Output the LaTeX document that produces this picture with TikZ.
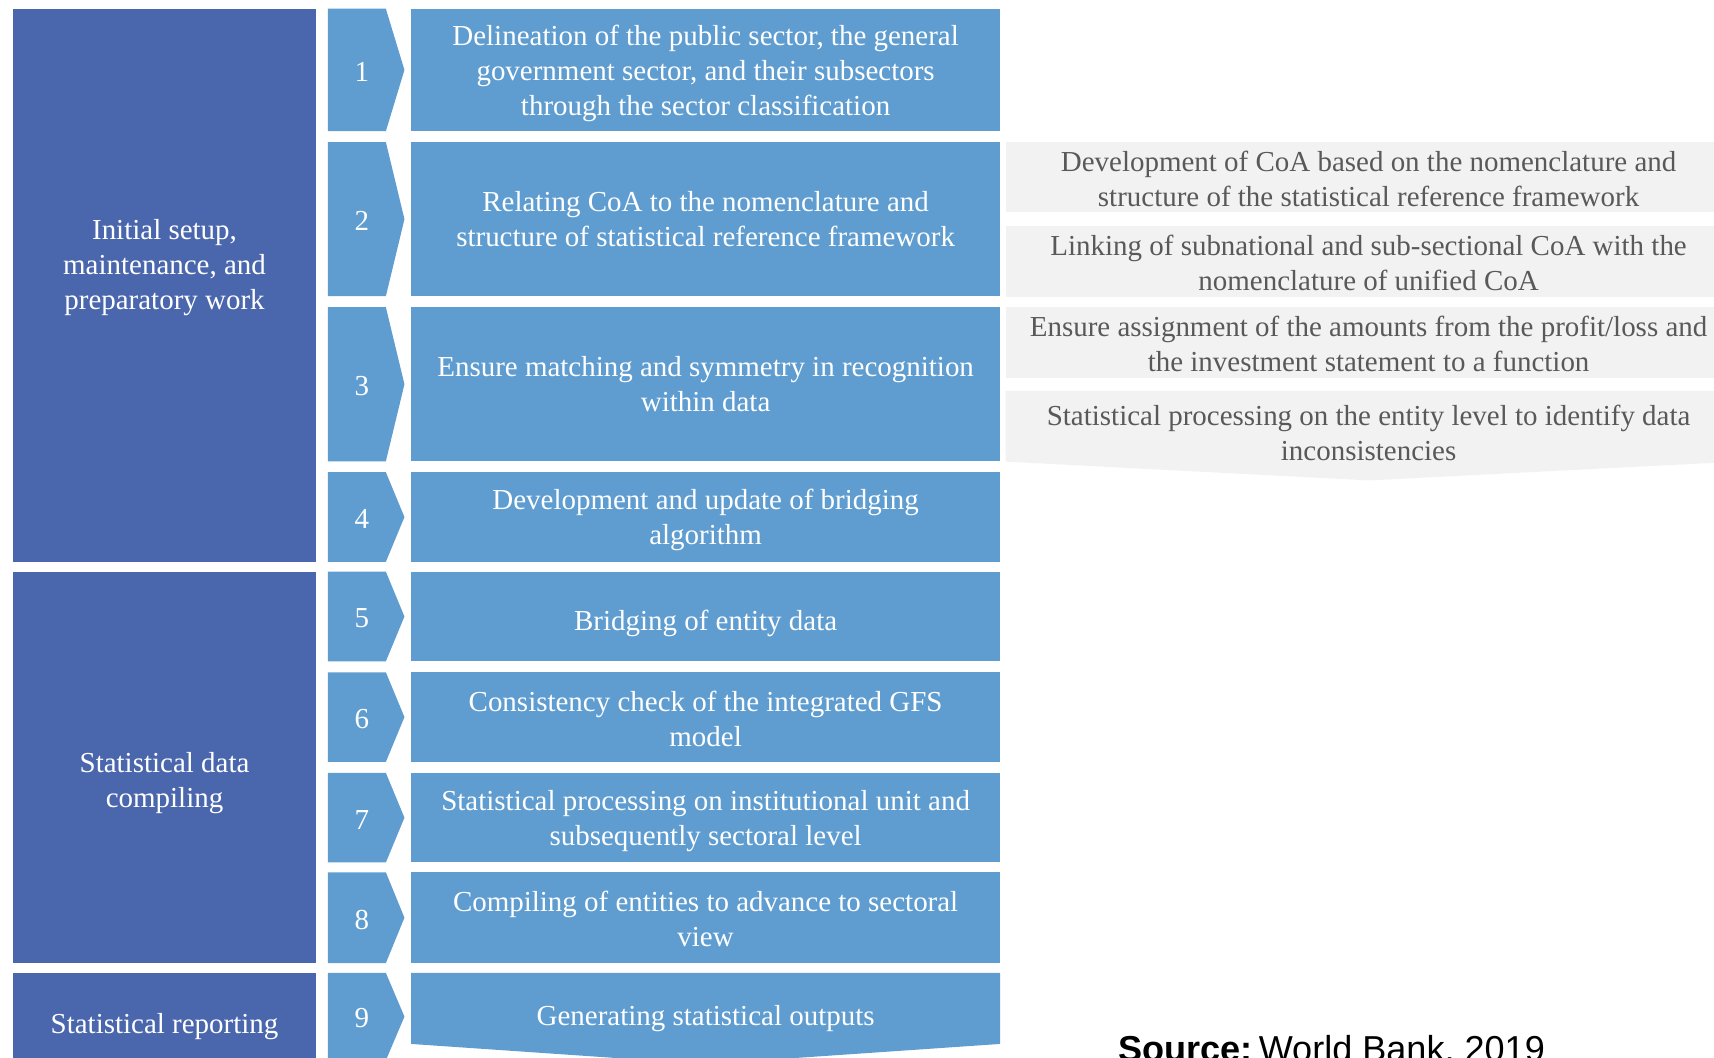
\documentclass[tikz,border=0pt]{standalone}
\usepackage{fontspec}
\setmainfont{Liberation Serif}
\newfontfamily\srcfont{Liberation Sans}
\definecolor{grpblue}{HTML}{4A66AC}
\definecolor{stepblue}{HTML}{5F9DD1}
\definecolor{subgray}{HTML}{F2F2F2}
\definecolor{subtext}{HTML}{595959}
\begin{document}
\begin{tikzpicture}[x=1pt,y=-1pt,
  txt/.style={inner sep=0pt, align=center, text=white,
    font={\fontsize{26.5}{32}\selectfont},
    execute at begin node=\strut, execute at end node=\strut},
  subtxt/.style={txt, text=subtext},
  grpfill/.style={fill=grpblue},
  stepfill/.style={fill=stepblue},
  subfill/.style={fill=subgray}]
\useasboundingbox (0,0) rectangle (1568,967);
\clip (0,0) rectangle (1568,967);

% group boxes
\path[grpfill] (12,8) rectangle (289,514);
\path[grpfill] (12,523) rectangle (289,881);
\path[grpfill] (12,890) rectangle (289,975);
\node[txt] (grpA) at (150.5,247) {Initial setup,\\maintenance, and\\preparatory work};
\node[txt] (grpB) at (150.5,718) {Statistical data\\compiling};
\node[txt] (grpC) at (150.5,939) {Statistical reporting};

% chevrons with numbers
\foreach \t/\b/\n in {8/120/1,130/271/2,281/422/3,432/514/4,523/605/5,615/697/6,707/789/7,798/881/8,890/970/9}{
  \path[stepfill] (300,\t) -- (353,\t) -- (370,{(\t+\b)/2}) -- (353,\b) -- (300,\b) -- cycle;
  \node[txt] (num\n) at (331,{(\t+\b)/2+4}) {\n};
}

% step boxes
\foreach \t/\b in {8/120,130/271,281/422,432/514,523/605,615/697,707/789,798/881}{
  \path[stepfill] (376,\t) rectangle (915,\b);
}
\path[stepfill] (376,890) -- (915,890) -- (915,955) -- (645.5,973.5) -- (376,955) -- cycle;

\node[txt] (step1) at (645.5,69) {Delineation of the public sector, the general\\government sector, and their subsectors\\through the sector classification};
\node[txt] (step2) at (645.5,205) {Relating CoA to the nomenclature and\\structure of statistical reference framework};
\node[txt] (step3) at (645.5,356) {Ensure matching and symmetry in recognition\\within data};
\node[txt] (step4) at (645.5,478) {Development and update of bridging\\algorithm};
\node[txt] (step5) at (645.5,570) {Bridging of entity data};
\node[txt] (step6) at (645.5,662) {Consistency check of the integrated GFS\\model};
\node[txt] (step7) at (645.5,753) {Statistical processing on institutional unit and\\subsequently sectoral level};
\node[txt] (step8) at (645.5,845) {Compiling of entities to advance to sectoral\\view};
\node[txt] (step9) at (645.5,932) {Generating statistical outputs};

% grey sub-steps
\path[subfill] (920,130) rectangle (1590,193.5);
\path[subfill] (920,207) rectangle (1590,271.5);
\path[subfill] (920,280.5) rectangle (1590,345.5);
\path[subfill] (920,357.5) -- (1590,357.5) -- (1590,422.3) -- (1252,439.5) -- (920,422.3) -- cycle;
\node[subtxt] (sub1) at (1252,168) {Development of CoA based on the nomenclature and\\structure of the statistical reference framework};
\node[subtxt] (sub2) at (1252,245) {Linking of subnational and sub-sectional CoA with the\\nomenclature of unified CoA};
\node[subtxt] (sub3) at (1252,319.5) {Ensure assignment of the amounts from the profit/loss and\\the investment statement to a function};
\node[subtxt] (sub4) at (1252,400.5) {Statistical processing on the entity level to identify data\\inconsistencies};

% source
\node[anchor=base west, inner sep=0pt, text=black, font={\srcfont\fontsize{33}{38}\selectfont}] (src) at (1023,971) {\textbf{Source:}\,World Bank, 2019};
\end{tikzpicture}
\end{document}
